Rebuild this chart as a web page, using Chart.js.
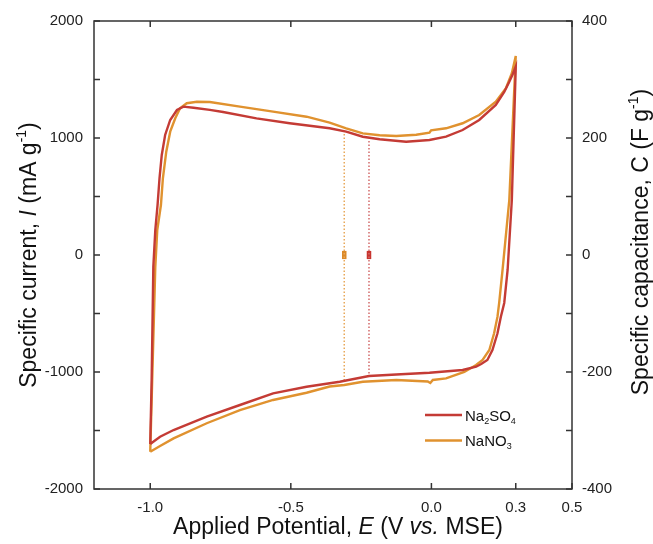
<!DOCTYPE html>
<html>
<head>
<meta charset="utf-8">
<script src="https://cdn.jsdelivr.net/npm/chart.js@4.4.1/dist/chart.umd.min.js"></script>
<style>
  html, body { margin: 0; padding: 0; background: #fff; }
  #wrap { width: 653px; height: 544px; }
</style>
</head>
<body>
<div id="wrap"><canvas id="cv_chart" width="653" height="544"></canvas></div>
<script>
// Cyclic voltammograms: potential (V vs. MSE) and specific current (mA/g)
// each loop: anodic sweep -1.0 -> 0.3 V, then cathodic sweep back to -1.0 V

const na2so4_potential = [
    -1.000, -0.995, -0.989, -0.982, -0.974, -0.967, -0.959, -0.947, -0.929, -0.905,
    -0.882, -0.846, -0.788, -0.741, -0.622, -0.504, -0.362, -0.303, -0.244, -0.184,
    -0.090, -0.007, 0.052, 0.111, 0.170, 0.229, 0.259, 0.277, 0.288, 0.300,
    0.286, 0.271, 0.259, 0.247, 0.235, 0.217, 0.199, 0.177, 0.159, 0.111,
    -0.007, -0.125, -0.222, -0.326, -0.444, -0.563, -0.681, -0.799, -0.917, -0.965,
    -1.000
];
const na2so4_current = [
    -1615, -1068, -103, 214, 427, 656, 855, 1026, 1154, 1239,
    1268, 1259, 1240, 1222, 1168, 1126, 1083, 1054, 1011, 989,
    968, 983, 1011, 1068, 1154, 1282, 1393, 1481, 1538, 1610,
    470, -128, -410, -527, -669, -812, -897, -932, -955, -983,
    -1006, -1021, -1034, -1083, -1126, -1182, -1282, -1382, -1496, -1553,
    -1615
];

const nano3_potential = [
    -1.000, -0.993, -0.982, -0.975, -0.962, -0.955, -0.943, -0.929, -0.911, -0.894,
    -0.870, -0.834, -0.788, -0.681, -0.563, -0.444, -0.362, -0.303, -0.244, -0.184,
    -0.125, -0.054, -0.007, -0.001, 0.052, 0.111, 0.170, 0.229, 0.265, 0.286, 0.300,
    0.277, 0.253, 0.241, 0.235, 0.223, 0.206, 0.182, 0.159, 0.117, 0.052,
    0.005, -0.004, -0.013, -0.125, -0.244, -0.310, -0.362, -0.444, -0.563, -0.681,
    -0.799, -0.917, -0.965, -1.000
];
const nano3_current = [
    -1681, -1068, -103, 214, 427, 656, 883, 1054, 1168, 1254,
    1297, 1310, 1308, 1268, 1225, 1182, 1131, 1083, 1040, 1023,
    1017, 1028, 1045, 1066, 1083, 1126, 1197, 1310, 1425, 1553, 1701,
    470, -128, -410, -527, -669, -812, -897, -940, -1000, -1054,
    -1068, -1094, -1081, -1068, -1083, -1111, -1124, -1177, -1239, -1325,
    -1438, -1567, -1632, -1681
];

// potentials used for the capacitance read-out (dotted guides + markers at 0)
const guide_potential = { na2so4: -0.222, nano3: -0.310 };
const guide_top = { na2so4: 975, nano3: 1035 };
const guide_bottom = { na2so4: -1030, nano3: -1080 };

const x_ticks = [-1.0, -0.5, 0.0, 0.3, 0.5];
const red = '#c43b35';
const orange = '#e0922f';
const FONT = '"Liberation Sans", Arial, sans-serif';

function toPoints(xs, ys) {
    return xs.map((x, i) => ({ x: x, y: ys[i] }));
}

function drawRich(ctx, parts, x, y, size, align) {
    const fontFor = p => (p.i ? 'italic ' : '') + ((p.sup || p.sub) ? Math.round(size * 0.62) : size) + 'px ' + FONT;
    let w = 0;
    parts.forEach(p => { ctx.font = fontFor(p); p.w = ctx.measureText(p.t).width; w += p.w; });
    let cx = align === 'left' ? x : x - w / 2;
    ctx.textAlign = 'left';
    ctx.textBaseline = 'alphabetic';
    parts.forEach(p => {
        ctx.font = fontFor(p);
        let dy = 0;
        if (p.sup) dy = -size * 0.42;
        if (p.sub) dy = size * 0.22;
        ctx.fillText(p.t, cx, y + dy);
        cx += p.w;
    });
}

const frame_plugin = {
    id: 'frame',
    afterDraw(chart) {
        const ctx = chart.ctx;
        const a = chart.chartArea;
        const sx = chart.scales.x, sy = chart.scales.y, sy2 = chart.scales.y2;
        const tl = 6;
        ctx.save();
        ctx.strokeStyle = '#333';
        ctx.lineWidth = 1.5;
        ctx.strokeRect(a.left, a.top, a.right - a.left, a.bottom - a.top);
        ctx.beginPath();
        sx.ticks.forEach(t => {
            const px = sx.getPixelForValue(t.value);
            ctx.moveTo(px, a.bottom); ctx.lineTo(px, a.bottom - tl);
            ctx.moveTo(px, a.top); ctx.lineTo(px, a.top + tl);
        });
        sy.ticks.forEach(t => {
            const py = sy.getPixelForValue(t.value);
            ctx.moveTo(a.left, py); ctx.lineTo(a.left + tl, py);
        });
        sy2.ticks.forEach(t => {
            const py = sy2.getPixelForValue(t.value);
            ctx.moveTo(a.right, py); ctx.lineTo(a.right - tl, py);
        });
        ctx.stroke();

        // axis titles
        ctx.fillStyle = '#111';
        drawRich(ctx, [
            { t: 'Applied Potential, ' }, { t: 'E', i: true }, { t: ' (V ' },
            { t: 'vs.', i: true }, { t: ' MSE)' }
        ], 338, 534, 23);

        ctx.save();
        ctx.translate(36, 255);
        ctx.rotate(-Math.PI / 2);
        drawRich(ctx, [
            { t: 'Specific current, ' }, { t: 'I', i: true }, { t: ' (mA g' },
            { t: '-1', sup: true }, { t: ')' }
        ], 0, 0, 23);
        ctx.restore();

        ctx.save();
        ctx.translate(648, 242);
        ctx.rotate(-Math.PI / 2);
        drawRich(ctx, [
            { t: 'Specific capacitance, ' }, { t: 'C' }, { t: ' (F g' },
            { t: '-1', sup: true }, { t: ')' }
        ], 0, 0, 23);
        ctx.restore();

        // legend
        const legend = [
            { color: red, parts: [{ t: 'Na' }, { t: '2', sub: true }, { t: 'SO' }, { t: '4', sub: true }] },
            { color: orange, parts: [{ t: 'NaNO' }, { t: '3', sub: true }] }
        ];
        legend.forEach((item, i) => {
            const ly = 415 + i * 25.5;
            ctx.strokeStyle = item.color;
            ctx.lineWidth = 2.5;
            ctx.beginPath();
            ctx.moveTo(425, ly); ctx.lineTo(462, ly);
            ctx.stroke();
            ctx.fillStyle = '#111';
            drawRich(ctx, item.parts, 465, ly + 5.5, 15, 'left');
        });
        ctx.restore();
    }
};

const tick_font = { family: FONT, size: 15 };

const cv_chart = new Chart(document.getElementById('cv_chart'), {
    type: 'scatter',
    data: {
        datasets: [
            {
                label: 'Na2SO4',
                data: toPoints(na2so4_potential, na2so4_current),
                showLine: true,
                borderColor: red,
                borderWidth: 2.4,
                pointRadius: 0,
                tension: 0
            },
            {
                label: 'NaNO3',
                data: toPoints(nano3_potential, nano3_current),
                showLine: true,
                borderColor: orange,
                borderWidth: 2.4,
                pointRadius: 0,
                tension: 0
            },
            {
                label: 'guide NaNO3',
                data: [{ x: guide_potential.nano3, y: guide_top.nano3 }, { x: guide_potential.nano3, y: guide_bottom.nano3 }],
                showLine: true,
                borderColor: '#e8a85a',
                borderWidth: 1.5,
                borderDash: [1.5, 2],
                pointRadius: 0
            },
            {
                label: 'guide Na2SO4',
                data: [{ x: guide_potential.na2so4, y: guide_top.na2so4 }, { x: guide_potential.na2so4, y: guide_bottom.na2so4 }],
                showLine: true,
                borderColor: '#d36a6a',
                borderWidth: 1.5,
                borderDash: [1.5, 2],
                pointRadius: 0
            },
            {
                label: 'marker NaNO3',
                data: [{ x: guide_potential.nano3, y: -35 }, { x: guide_potential.nano3, y: 35 }],
                showLine: true,
                borderColor: '#dc8a2a',
                borderWidth: 4.5,
                borderCapStyle: 'butt',
                pointRadius: 0
            },
            {
                label: 'marker Na2SO4',
                data: [{ x: guide_potential.na2so4, y: -35 }, { x: guide_potential.na2so4, y: 35 }],
                showLine: true,
                borderColor: '#c8352f',
                borderWidth: 4.5,
                borderCapStyle: 'butt',
                pointRadius: 0
            }
        ]
    },
    options: {
        responsive: false,
        animation: false,
        devicePixelRatio: 1,
        layout: { padding: { top: 21, left: 0, right: 0, bottom: 0 } },
        plugins: {
            legend: { display: false },
            tooltip: { enabled: false }
        },
        scales: {
            x: {
                type: 'linear',
                position: 'bottom',
                min: -1.2,
                max: 0.5,
                afterBuildTicks: s => { s.ticks = x_ticks.map(v => ({ value: v })); },
                afterFit: s => { s.height = 55; },
                grid: { display: false, drawTicks: false },
                border: { display: false },
                ticks: {
                    autoSkip: false,
                    maxRotation: 0,
                    padding: 10,
                    color: '#222',
                    font: tick_font,
                    callback: v => v.toFixed(1)
                }
            },
            y: {
                position: 'left',
                min: -2000,
                max: 2000,
                afterFit: s => { s.width = 94; },
                grid: { display: false, drawTicks: false },
                border: { display: false },
                ticks: {
                    stepSize: 500,
                    padding: 11,
                    color: '#222',
                    font: tick_font,
                    callback: v => (v % 1000 === 0 ? String(v) : '')
                }
            },
            y2: {
                position: 'right',
                min: -400,
                max: 400,
                afterFit: s => { s.width = 81; },
                grid: { display: false, drawTicks: false },
                border: { display: false },
                ticks: {
                    stepSize: 100,
                    padding: 10,
                    color: '#222',
                    font: tick_font,
                    callback: v => (v % 200 === 0 ? String(v) : '')
                }
            }
        }
    },
    plugins: [frame_plugin]
});
</script>
</body>
</html>
